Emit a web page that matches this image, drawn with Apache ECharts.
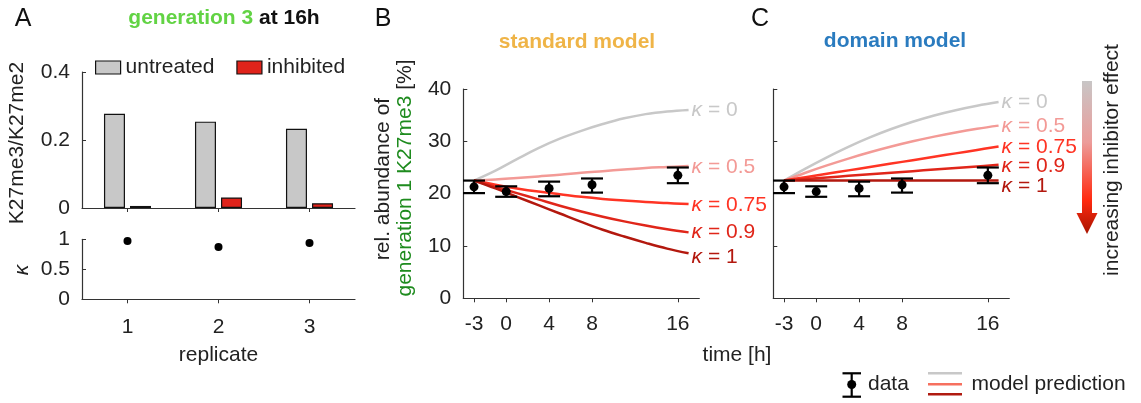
<!DOCTYPE html>
<html>
<head>
<meta charset="utf-8">
<script src="https://cdn.jsdelivr.net/npm/echarts@6/dist/echarts.min.js"></script>
<style>
  html, body { margin: 0; padding: 0; background: #fff; }
  #chart { width: 1141px; height: 403px; }
</style>
</head>
<body>
<div id="chart"></div>
<script>
// ---- Panel A: H3K27me3/me2 ratio per replicate and fitted kappa ----
const replicates = ['1', '2', '3'];
const ratioUntreated = [0.277, 0.254, 0.233];
const ratioInhibited = [0.006, 0.031, 0.014];
const kappaFit = [0.97, 0.87, 0.94];

// ---- Panels B/C: measured generation-1 K27me3 abundance (%) ----
const timeTicks = [-3, 0, 4, 8, 16];
const dataTime = [-3, 0, 4, 8, 16];
const dataMean = [21.3, 20.4, 21.0, 21.7, 23.5];
const dataLow = [20.1, 19.4, 19.5, 20.2, 22.0];
const dataHigh = [22.5, 21.4, 22.3, 22.9, 25.0];

// ---- Model predictions for each inhibitor strength kappa ----
const modelTime = [-3, -1, 1, 3, 5, 7, 9, 11, 13, 15, 17];
const kappaLabels = ['0', '0.5', '0.75', '0.9', '1'];

const standardK0 = [22.5, 24.4, 26.6, 28.7, 30.5, 32.0, 33.3, 34.4, 35.2, 35.7, 36.0];
const standardK05 = [22.5, 22.7, 23.0, 23.3, 23.6, 24.0, 24.3, 24.6, 24.9, 25.1, 25.3];
const standardK075 = [22.5, 21.7, 21.0, 20.4, 19.9, 19.4, 19.0, 18.7, 18.4, 18.2, 18.0];
const standardK09 = [22.5, 21.3, 20.1, 18.9, 17.7, 16.6, 15.6, 14.7, 13.9, 13.2, 12.6];
const standardK1 = [22.5, 21.0, 19.4, 17.8, 16.2, 14.6, 13.1, 11.8, 10.6, 9.5, 8.6];

const domainK0 = [22.5, 24.8, 26.95, 28.95, 30.75, 32.35, 33.75, 34.95, 35.95, 36.8, 37.5];
const domainK05 = [22.5, 24.0, 25.4, 26.7, 27.9, 29.0, 30.0, 30.9, 31.7, 32.4, 33.0];
const domainK075 = [22.5, 23.15, 23.8, 24.45, 25.1, 25.75, 26.4, 27.05, 27.7, 28.35, 29.0];
const domainK09 = [22.5, 22.8, 23.1, 23.4, 23.7, 24.0, 24.3, 24.6, 24.9, 25.2, 25.5];
const domainK1 = [22.5, 22.5, 22.5, 22.5, 22.5, 22.5, 22.5, 22.5, 22.5, 22.5, 22.5];

const standardCurves = [standardK0, standardK05, standardK075, standardK09, standardK1];
const domainCurves = [domainK0, domainK05, domainK075, domainK09, domainK1];

const kappaColors = ['#c8c8c8', '#f39a96', '#ff3424', '#e0261a', '#b3180e'];
const kappaLabelOffsets = [[0, 0], [0, 1], [0, 1], [0, 0], [0, 4]];
const kappaLabelOffsetsDomain = [[0, 0], [0, 1], [0, 1], [0, 1], [0, 6]];

const FONT = "'Liberation Sans', Arial, Helvetica, sans-serif";
const AXIS_COLOR = '#333';
const TEXT_COLOR = '#222';
const FS = 21;

const chart = echarts.init(document.getElementById('chart'), null, { renderer: 'canvas' });

function axisLineStyle() {
  return { show: true, onZero: false, lineStyle: { color: AXIS_COLOR, width: 1.2 } };
}

function modelSeries(curves, axisIdx, prefix, offsets) {
  return curves.map((vals, i) => ({
    name: prefix + kappaLabels[i],
    type: 'line',
    xAxisIndex: axisIdx,
    yAxisIndex: axisIdx,
    data: modelTime.map((t, j) => [t, vals[j]]),
    smooth: 0.4,
    showSymbol: false,
    symbol: 'none',
    clip: false,
    z: 2 + i * 0.1,
    lineStyle: { color: kappaColors[i], width: 2.5 },
    endLabel: {
      show: true,
      distance: 3,
      offset: offsets[i],
      formatter: '{k|κ} = ' + kappaLabels[i],
      color: kappaColors[i],
      fontSize: FS,
      fontFamily: FONT,
      rich: {
        k: { fontStyle: 'italic', color: kappaColors[i], fontSize: FS, fontFamily: FONT }
      }
    },
    emphasis: { disabled: true }
  }));
}

function errorSeries(axisIdx) {
  return {
    type: 'custom',
    xAxisIndex: axisIdx,
    yAxisIndex: axisIdx,
    z: 5,
    data: dataTime.map((t, i) => [t, dataMean[i], dataLow[i], dataHigh[i]]),
    encode: { x: 0, y: 1 },
    renderItem: function (params, api) {
      const x = api.value(0);
      const pM = api.coord([x, api.value(1)]);
      const pLo = api.coord([x, api.value(2)]);
      const pHi = api.coord([x, api.value(3)]);
      const hw = 11;
      const st = { stroke: '#000', lineWidth: 2.2 };
      return {
        type: 'group',
        children: [
          { type: 'line', shape: { x1: pLo[0], y1: pLo[1], x2: pHi[0], y2: pHi[1] }, style: st },
          { type: 'line', shape: { x1: pLo[0] - hw, y1: pLo[1], x2: pLo[0] + hw, y2: pLo[1] }, style: st },
          { type: 'line', shape: { x1: pHi[0] - hw, y1: pHi[1], x2: pHi[0] + hw, y2: pHi[1] }, style: st },
          { type: 'circle', shape: { cx: pM[0], cy: pM[1], r: 4.5 }, style: { fill: '#000' } }
        ]
      };
    }
  };
}

function timeAxis(gridIndex) {
  return {
    type: 'value', gridIndex: gridIndex, min: -4, max: 18,
    axisLine: axisLineStyle(),
    axisTick: { show: true, customValues: timeTicks, length: 4, inside: false, lineStyle: { color: AXIS_COLOR } },
    axisLabel: { show: true, customValues: timeTicks, fontSize: FS, color: TEXT_COLOR, fontFamily: FONT, margin: 15 },
    splitLine: { show: false }
  };
}

function abundanceAxis(gridIndex, showLabels) {
  return {
    type: 'value', gridIndex: gridIndex, min: 0, max: 40, interval: 10,
    axisLine: axisLineStyle(),
    axisTick: { show: true, inside: true, length: 4, lineStyle: { color: AXIS_COLOR } },
    axisLabel: { show: showLabels, fontSize: FS, color: TEXT_COLOR, fontFamily: FONT, margin: 12 },
    splitLine: { show: false }
  };
}

function txt(x, y, text, extra) {
  return Object.assign({
    type: 'text', x: x, y: y, silent: true,
    style: Object.assign({
      text: text, fontSize: FS, fontFamily: FONT, fill: TEXT_COLOR,
      align: 'center', verticalAlign: 'middle'
    }, (extra && extra.style) || {})
  }, extra && extra.rotation !== undefined ? { rotation: extra.rotation } : {});
}

const option = {
  animation: false,
  textStyle: { fontFamily: FONT },
  grid: [
    { left: 82, top: 72, width: 273, height: 136, containLabel: false },
    { left: 82, top: 239.3, width: 273, height: 60, containLabel: false },
    { left: 463.3, top: 89, width: 236, height: 209.3, containLabel: false },
    { left: 773.3, top: 89, width: 236, height: 209.3, containLabel: false }
  ],
  legend: {
    data: ['untreated', 'inhibited'],
    left: 95, top: 57, padding: 0,
    itemWidth: 25, itemHeight: 13, itemGap: 22,
    icon: 'rect',
    selectedMode: false,
    itemStyle: { borderColor: '#111', borderWidth: 1.2 },
    textStyle: { fontSize: FS, color: TEXT_COLOR, fontFamily: FONT }
  },
  xAxis: [
    {
      type: 'category', gridIndex: 0, data: replicates,
      axisLine: axisLineStyle(),
      axisTick: { show: true, alignWithLabel: true, length: 4, lineStyle: { color: AXIS_COLOR } },
      axisLabel: { show: false }
    },
    {
      type: 'category', gridIndex: 1, data: replicates,
      axisLine: axisLineStyle(),
      axisTick: { show: true, alignWithLabel: true, length: 4, lineStyle: { color: AXIS_COLOR } },
      axisLabel: { show: true, fontSize: FS, color: TEXT_COLOR, fontFamily: FONT, margin: 17 },
      name: 'replicate', nameLocation: 'middle', nameGap: 45,
      nameTextStyle: { fontSize: FS, color: TEXT_COLOR, fontFamily: FONT }
    },
    timeAxis(2),
    timeAxis(3)
  ],
  yAxis: [
    {
      type: 'value', gridIndex: 0, min: 0, max: 0.4, interval: 0.2,
      axisLine: axisLineStyle(),
      axisTick: { show: true, inside: true, length: 4, lineStyle: { color: AXIS_COLOR } },
      axisLabel: { fontSize: FS, color: TEXT_COLOR, fontFamily: FONT, margin: 12 },
      splitLine: { show: false }
    },
    {
      type: 'value', gridIndex: 1, min: 0, max: 1, interval: 0.5,
      axisLine: axisLineStyle(),
      axisTick: { show: true, inside: true, length: 4, lineStyle: { color: AXIS_COLOR } },
      axisLabel: { fontSize: FS, color: TEXT_COLOR, fontFamily: FONT, margin: 12 },
      splitLine: { show: false }
    },
    abundanceAxis(2, true),
    abundanceAxis(3, false)
  ],
  series: [
    {
      name: 'untreated', type: 'bar', xAxisIndex: 0, yAxisIndex: 0,
      data: ratioUntreated, barWidth: 21, barGap: '24%',
      itemStyle: { color: '#c8c8c8', borderColor: '#111', borderWidth: 1.2 },
      emphasis: { disabled: true }
    },
    {
      name: 'inhibited', type: 'bar', xAxisIndex: 0, yAxisIndex: 0,
      data: ratioInhibited, barWidth: 21,
      itemStyle: { color: '#e0231b', borderColor: '#111', borderWidth: 1.2 },
      emphasis: { disabled: true }
    },
    {
      name: 'kappa', type: 'scatter', xAxisIndex: 1, yAxisIndex: 1,
      data: kappaFit, symbolSize: 8, itemStyle: { color: '#000', opacity: 1 },
      emphasis: { disabled: true }
    }
  ]
    .concat(modelSeries(standardCurves, 2, 'standard κ=', kappaLabelOffsets))
    .concat([errorSeries(2)])
    .concat(modelSeries(domainCurves, 3, 'domain κ=', kappaLabelOffsetsDomain))
    .concat([errorSeries(3)]),
  graphic: [
    // panel letters
    txt(23, 19, 'A', { style: { fontSize: 25, fill: '#111' } }),
    txt(383, 19, 'B', { style: { fontSize: 25, fill: '#111' } }),
    txt(760, 19, 'C', { style: { fontSize: 25, fill: '#111' } }),
    // panel titles
    txt(224, 18, '{g|generation 3} {b|at 16h}', {
      style: {
        fontWeight: 'bold', fontSize: 21,
        rich: {
          g: { fill: '#62d344', fontWeight: 'bold', fontSize: 21, fontFamily: FONT },
          b: { fill: '#111', fontWeight: 'bold', fontSize: 21, fontFamily: FONT }
        }
      }
    }),
    txt(577, 42, 'standard model', { style: { fontWeight: 'bold', fontSize: 21, fill: '#efb447' } }),
    txt(895, 41, 'domain model', { style: { fontWeight: 'bold', fontSize: 21, fill: '#2a7bbf' } }),
    // axis titles
    txt(17, 143, 'K27me3/K27me2', { rotation: Math.PI / 2 }),
    txt(22, 270, 'κ', { rotation: Math.PI / 2, style: { fontStyle: 'italic' } }),
    txt(383, 179, 'rel. abundance of', { rotation: Math.PI / 2 }),
    txt(405, 178, '{g|generation 1 K27me3} {b|[%]}', {
      rotation: Math.PI / 2,
      style: {
        rich: {
          g: { fill: '#1e8b1e', fontSize: FS, fontFamily: FONT },
          b: { fill: TEXT_COLOR, fontSize: FS, fontFamily: FONT }
        }
      }
    }),
    txt(737, 355, 'time [h]'),
    txt(1112, 160, 'increasing inhibitor effect', { rotation: Math.PI / 2 }),
    // inhibitor-strength arrow
    {
      type: 'polygon', silent: true,
      shape: {
        points: [[1082, 81], [1092, 81], [1092, 213], [1097.5, 213], [1087, 234],
                 [1076.5, 213], [1082, 213]]
      },
      style: {
        fill: {
          type: 'linear', x: 0, y: 0, x2: 0, y2: 1,
          colorStops: [
            { offset: 0, color: '#c8c6c6' },
            { offset: 0.4, color: '#ec9c9a' },
            { offset: 0.78, color: '#ff2a10' },
            { offset: 1, color: '#a81400' }
          ]
        }
      }
    },
    // bottom legend: data symbol
    { type: 'line', silent: true, shape: { x1: 851.7, y1: 373.3, x2: 851.7, y2: 396.7 }, style: { stroke: '#000', lineWidth: 2.2 } },
    { type: 'line', silent: true, shape: { x1: 842.5, y1: 373.3, x2: 861, y2: 373.3 }, style: { stroke: '#000', lineWidth: 2.2 } },
    { type: 'line', silent: true, shape: { x1: 842.5, y1: 396.7, x2: 861, y2: 396.7 }, style: { stroke: '#000', lineWidth: 2.2 } },
    { type: 'circle', silent: true, shape: { cx: 851.7, cy: 384.5, r: 4.5 }, style: { fill: '#000' } },
    txt(868, 384, 'data', { style: { align: 'left' } }),
    // bottom legend: model prediction lines
    { type: 'line', silent: true, shape: { x1: 928, y1: 373.3, x2: 962, y2: 373.3 }, style: { stroke: '#c8c8c8', lineWidth: 2.5 } },
    { type: 'line', silent: true, shape: { x1: 928, y1: 384.3, x2: 962, y2: 384.3 }, style: { stroke: '#f6705f', lineWidth: 2.5 } },
    { type: 'line', silent: true, shape: { x1: 928, y1: 394.3, x2: 962, y2: 394.3 }, style: { stroke: '#b01a10', lineWidth: 2.5 } },
    txt(971.5, 384, 'model prediction', { style: { align: 'left' } })
  ]
};

chart.setOption(option);
</script>
</body>
</html>
